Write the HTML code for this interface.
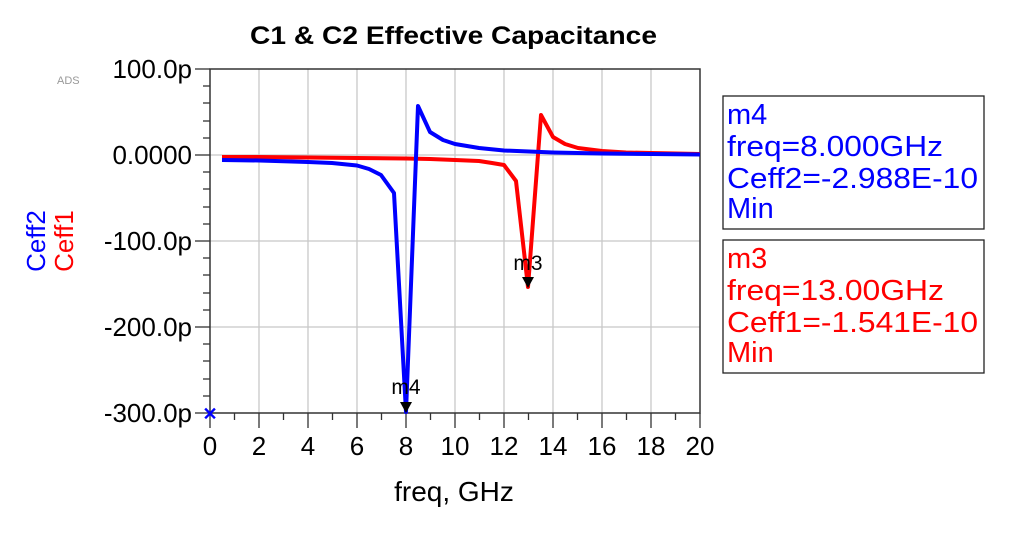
<!DOCTYPE html>
<html><head><meta charset="utf-8"><style>
body{margin:0;background:#fff}
svg text{font-family:"Liberation Sans",Arial,sans-serif}
</style></head><body>
<svg width="1024" height="532" viewBox="0 0 1024 532" xmlns="http://www.w3.org/2000/svg">
<rect width="1024" height="532" fill="#fff"/>
<text x="250" y="44" font-size="25" font-weight="bold" textLength="407" lengthAdjust="spacingAndGlyphs">C1 &amp; C2 Effective Capacitance</text>
<text x="57" y="84" font-size="11" fill="#999">ADS</text>
<!-- grid -->
<g stroke="#c8c8c8" stroke-width="1.3">
<line x1="259" y1="69" x2="259" y2="413"/><line x1="308" y1="69" x2="308" y2="413"/>
<line x1="357" y1="69" x2="357" y2="413"/><line x1="406" y1="69" x2="406" y2="413"/>
<line x1="455" y1="69" x2="455" y2="413"/><line x1="504" y1="69" x2="504" y2="413"/>
<line x1="553" y1="69" x2="553" y2="413"/><line x1="602" y1="69" x2="602" y2="413"/>
<line x1="651" y1="69" x2="651" y2="413"/>
<line x1="210" y1="155" x2="700" y2="155"/><line x1="210" y1="241" x2="700" y2="241"/>
<line x1="210" y1="327" x2="700" y2="327"/>
</g>
<rect x="210" y="69" width="490" height="344" fill="none" stroke="#333" stroke-width="1.5"/>
<!-- y ticks -->
<g stroke="#333" stroke-width="1.3">
<line x1="195" y1="69" x2="210" y2="69"/><line x1="195" y1="155" x2="210" y2="155"/>
<line x1="195" y1="241" x2="210" y2="241"/><line x1="195" y1="327" x2="210" y2="327"/>
<line x1="195" y1="413" x2="210" y2="413"/>
<line x1="203" y1="86" x2="210" y2="86"/><line x1="203" y1="103" x2="210" y2="103"/><line x1="203" y1="121" x2="210" y2="121"/><line x1="203" y1="138" x2="210" y2="138"/>
<line x1="203" y1="172" x2="210" y2="172"/><line x1="203" y1="189" x2="210" y2="189"/><line x1="203" y1="207" x2="210" y2="207"/><line x1="203" y1="224" x2="210" y2="224"/>
<line x1="203" y1="258" x2="210" y2="258"/><line x1="203" y1="275" x2="210" y2="275"/><line x1="203" y1="293" x2="210" y2="293"/><line x1="203" y1="310" x2="210" y2="310"/>
<line x1="203" y1="344" x2="210" y2="344"/><line x1="203" y1="361" x2="210" y2="361"/><line x1="203" y1="379" x2="210" y2="379"/><line x1="203" y1="396" x2="210" y2="396"/>
</g>
<!-- x ticks -->
<g stroke="#333" stroke-width="1.3">
<line x1="210" y1="413" x2="210" y2="428"/><line x1="259" y1="413" x2="259" y2="428"/><line x1="308" y1="413" x2="308" y2="428"/><line x1="357" y1="413" x2="357" y2="428"/><line x1="406" y1="413" x2="406" y2="428"/><line x1="455" y1="413" x2="455" y2="428"/><line x1="504" y1="413" x2="504" y2="428"/><line x1="553" y1="413" x2="553" y2="428"/><line x1="602" y1="413" x2="602" y2="428"/><line x1="651" y1="413" x2="651" y2="428"/><line x1="700" y1="413" x2="700" y2="428"/>
<line x1="234.5" y1="413" x2="234.5" y2="420"/><line x1="283.5" y1="413" x2="283.5" y2="420"/><line x1="332.5" y1="413" x2="332.5" y2="420"/><line x1="381.5" y1="413" x2="381.5" y2="420"/><line x1="430.5" y1="413" x2="430.5" y2="420"/><line x1="479.5" y1="413" x2="479.5" y2="420"/><line x1="528.5" y1="413" x2="528.5" y2="420"/><line x1="577.5" y1="413" x2="577.5" y2="420"/><line x1="626.5" y1="413" x2="626.5" y2="420"/><line x1="675.5" y1="413" x2="675.5" y2="420"/>
</g>
<g font-size="26" text-anchor="end">
<text x="192" y="78">100.0p</text><text x="192" y="164">0.0000</text>
<text x="192" y="250">-100.0p</text><text x="192" y="336">-200.0p</text><text x="192" y="422">-300.0p</text>
</g>
<g font-size="26" text-anchor="middle">
<text x="210" y="455">0</text><text x="259" y="455">2</text><text x="308" y="455">4</text><text x="357" y="455">6</text><text x="406" y="455">8</text><text x="455" y="455">10</text><text x="504" y="455">12</text><text x="553" y="455">14</text><text x="602" y="455">16</text><text x="651" y="455">18</text><text x="700" y="455">20</text>
<text x="454" y="501" font-size="28">freq, GHz</text>
</g>
<text transform="translate(45,241) rotate(-90)" font-size="26" fill="#00f" text-anchor="middle">Ceff2</text>
<text transform="translate(73,241) rotate(-90)" font-size="26" fill="#f00" text-anchor="middle">Ceff1</text>
<!-- series -->
<polyline fill="none" stroke="#f00" stroke-width="4" stroke-linejoin="round" points="222,157 259,157 308,157.5 357,158 406,158.5 430,159 455,160 479,161 492,163 504,165 516,181 528,287 541,115 553,137 565,144 578,148 602,151 626,152.5 651,153 700,154"/>
<polyline fill="none" stroke="#00f" stroke-width="4" stroke-linejoin="round" points="222,160 259,160.5 308,162 332,163 357,165.5 369,169 381,175 394,193 406,412 418,106 430,132 443,140 455,144 479,148 504,150.5 553,152.5 602,153.5 651,154 700,154.5"/>
<!-- markers -->
<polygon points="400,402 412,402 406,413" fill="#000"/>
<text x="406" y="394" font-size="21" text-anchor="middle">m4</text>
<polygon points="522,277 534,277 528,288" fill="#000"/>
<text x="528" y="270" font-size="21" text-anchor="middle">m3</text>
<text x="210" y="420" font-size="18" fill="#00f" text-anchor="middle" font-weight="bold">✕</text>
<!-- legend boxes -->
<rect x="723" y="96" width="261" height="133" fill="#fff" stroke="#222" stroke-width="1.3"/>
<g font-size="29" fill="#00f">
<text x="727" y="124">m4</text><text x="727" y="156" textLength="216" lengthAdjust="spacingAndGlyphs">freq=8.000GHz</text>
<text x="727" y="188" textLength="251" lengthAdjust="spacingAndGlyphs">Ceff2=-2.988E-10</text><text x="727" y="218">Min</text>
</g>
<rect x="723" y="240" width="261" height="133" fill="#fff" stroke="#222" stroke-width="1.3"/>
<g font-size="29" fill="#f00">
<text x="727" y="268">m3</text><text x="727" y="300" textLength="217" lengthAdjust="spacingAndGlyphs">freq=13.00GHz</text>
<text x="727" y="332" textLength="251" lengthAdjust="spacingAndGlyphs">Ceff1=-1.541E-10</text><text x="727" y="362">Min</text>
</g>
</svg>
</body></html>
